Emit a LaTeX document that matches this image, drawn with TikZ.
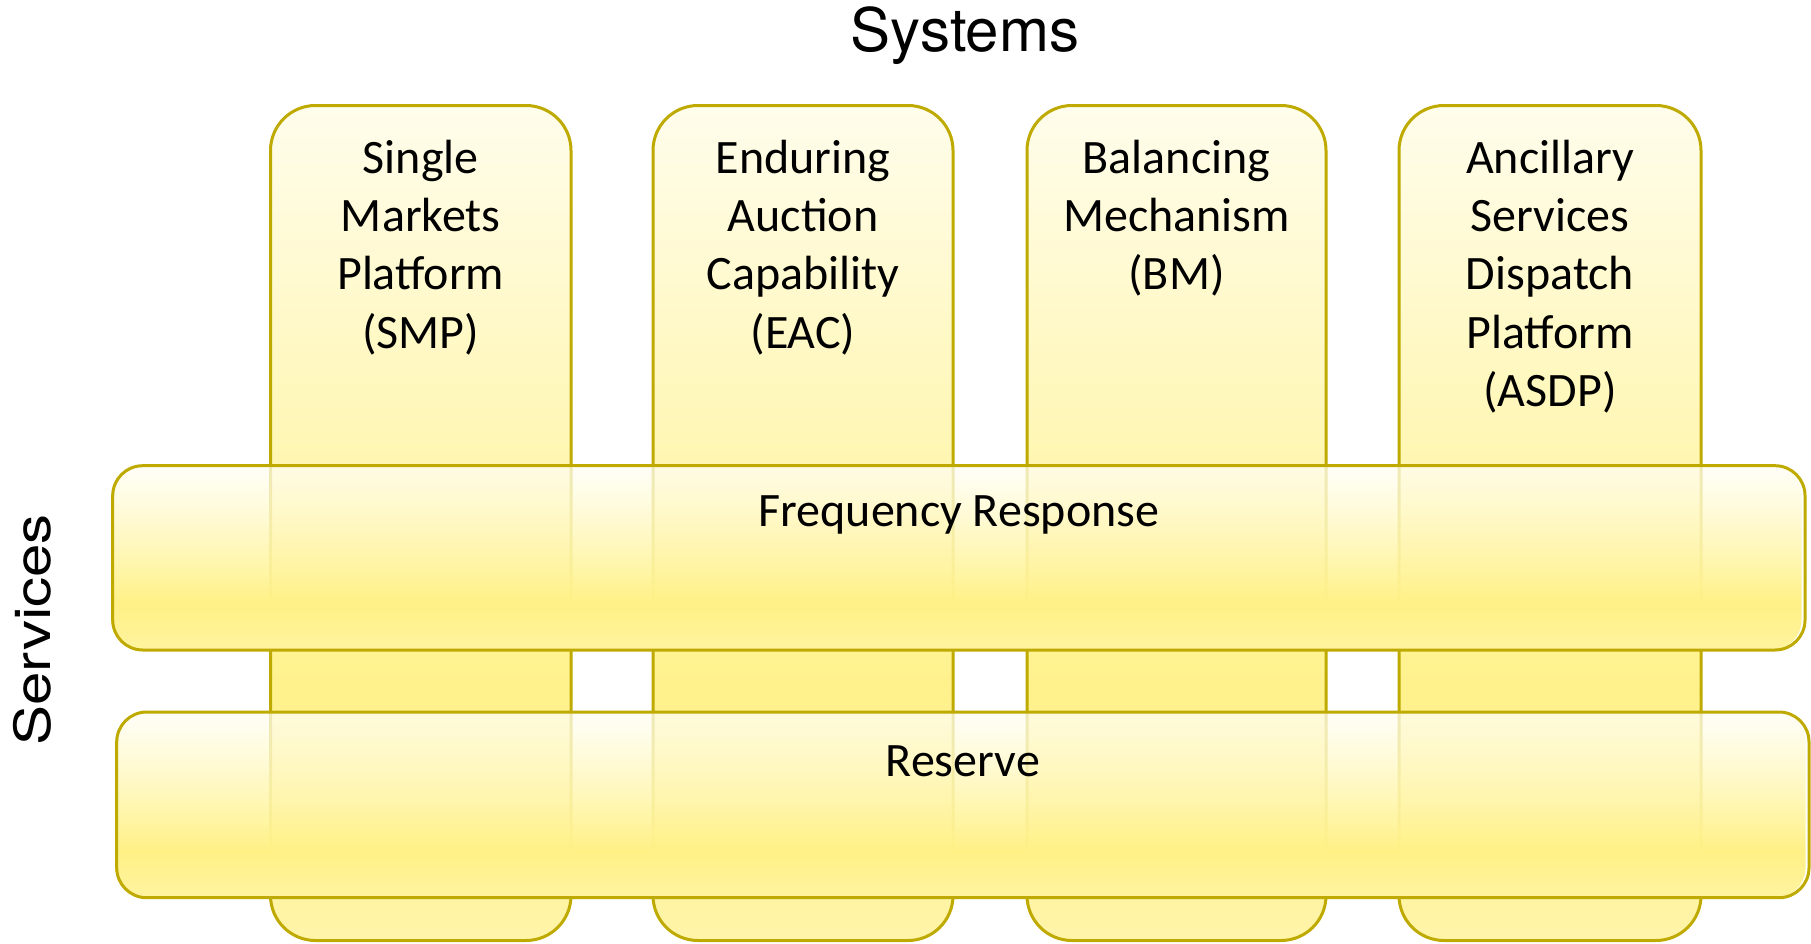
\documentclass[tikz,border=0pt]{standalone}
\usepackage{fontspec}
\setmainfont{Carlito}
\newfontfamily\headfont{TeX Gyre Heros}
\usetikzlibrary{fadings}
\definecolor{edge}{RGB}{190,170,0}
\definecolor{cb}{RGB}{255,244,168}
\definecolor{cm}{RGB}{255,242,140}
\definecolor{ct}{RGB}{255,253,236}
\definecolor{bb}{RGB}{255,243,160}
\definecolor{bm}{RGB}{255,241,133}
\definecolor{bt}{RGB}{255,254,245}
\pgfdeclareverticalshading{colshade}{100bp}{color(0bp)=(cb); color(25bp)=(cb); color(40bp)=(cm); color(75bp)=(ct); color(100bp)=(ct)}
\pgfdeclareverticalshading{barshade}{100bp}{color(0bp)=(bb); color(25bp)=(bb); color(37.5bp)=(bm); color(75bp)=(bt); color(100bp)=(bt)}
\pgfdeclareverticalshading{barfadeshade}{100bp}{color(0bp)=(white); color(37.5bp)=(white); color(75bp)=(black!25); color(100bp)=(black!25)}
\pgfdeclarefading{barfade}{\pgfuseshading{barfadeshade}}
\tikzset{
  colbox/.style={shading=colshade, rounded corners=45pt},
  barbox/.style={shading=barshade, rounded corners=30pt, path fading=barfade, fit fading=true},
  outline/.style={draw=edge, line width=3pt},
  coltext/.style={anchor=base, align=center, inner sep=0pt, font=\fontsize{48}{58.3}\selectfont},
  bartext/.style={anchor=base, inner sep=0pt, font=\fontsize{48}{58.3}\selectfont},
  headtext/.style={anchor=base, inner sep=0pt, font=\headfont\fontsize{60}{70}\selectfont}
}
\begin{document}
\begin{tikzpicture}[x=1pt,y=-1pt]
\useasboundingbox (0,0) rectangle (1811,943);
% columns
\foreach \l/\r in {270.5/571, 653/953, 1027/1326, 1399/1701}{
  \shade[colbox] (\l,105.5) rectangle (\r,940.5);
  \draw[outline, rounded corners=45pt] (\l,105.5) rectangle (\r,940.5);
}
% bars
\shade[barbox] (112.7,465.7) rectangle (1805,650);
\draw[outline, rounded corners=30pt] (112.7,465.7) rectangle (1805,650);
\shade[barbox] (116.7,712) rectangle (1809,897.7);
\draw[outline, rounded corners=30pt] (116.7,712) rectangle (1809,897.7);
% texts (anchor=base is the baseline of the last line)
\node[coltext] (smp) at (420.75,348.2) {Single\\Markets\\Platform\\(SMP)};
\node[coltext] (eac) at (803,348.2) {Enduring\\Auction\\Capability\\(EAC)};
\node[coltext] (bm) at (1176.5,289.9) {Balancing\\Mechanism\\(BM)};
\node[coltext] (asdp) at (1550,406.5) {Ancillary\\Services\\Dispatch\\Platform\\(ASDP)};
\node[bartext] (fr) at (958.9,526.7) {Frequency Response};
\node[bartext] (res) at (962.8,776.7) {Reserve};
\node[headtext] (sys) at (965,51.7) {Systems};
\node[headtext, rotate=90] (serv) at (50,630) {\scalebox{1}[0.83]{Services}};
\end{tikzpicture}
\end{document}
